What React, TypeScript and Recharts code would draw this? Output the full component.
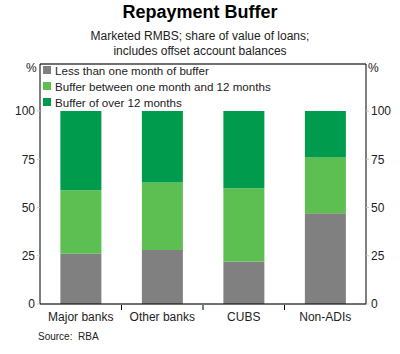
import React from "react"
import { BarChart, Bar, XAxis, YAxis, CartesianGrid, ReferenceLine } from "recharts"

const categories = ["Major banks", "Other banks", "CUBS", "Non-ADIs"]
const lessThanMonth = [26, 28, 22, 47]
const oneTo12Months = [33, 35, 38, 29]
const over12Months = [41, 37, 40, 24]
const yTicks = [0, 25, 50, 75, 100]

const series = [
  { key: "less", name: "Less than one month of buffer", color: "#808080" },
  { key: "mid", name: "Buffer between one month and 12 months", color: "#5dbf51" },
  { key: "over", name: "Buffer of over 12 months", color: "#009b4c" },
]

const data = categories.map((c, i) => ({
  name: c,
  less: lessThanMonth[i],
  mid: oneTo12Months[i],
  over: over12Months[i],
}))

const FONT = "'Liberation Sans', Arial, sans-serif"
const TOP = 124.4

// category label plus a small separator tick on the left edge of each band
const CatTick = (props: any) => {
  const { x, y, payload, index } = props
  const half = payload && payload.offset ? payload.offset : 40.75
  return (
    <g>
      {index > 0 && <line x1={x - half} x2={x - half} y1={y - 4} y2={y - 9} stroke="#000" />}
      <text x={x} y={y} dy={7} textAnchor="middle" fontSize={12} fill="#222" fontFamily={FONT}>
        {payload.value}
      </text>
    </g>
  )
}

export default function App() {
  return (
    <div style={{ position: "absolute", left: 0, top: 0, width: 400, height: 354, background: "#fff", fontFamily: FONT }}>
      <div style={{ position: "absolute", top: 2, width: 400, textAlign: "center", fontSize: 18, fontWeight: "bold", color: "#000" }}>
        Repayment Buffer
      </div>
      <div style={{ position: "absolute", top: 29, width: 400, textAlign: "center", fontSize: 12, lineHeight: "15px", color: "#222" }}>
        Marketed RMBS; share of value of loans;<br />includes offset account balances
      </div>
      <div style={{ position: "absolute", top: 61, left: 26, fontSize: 12, color: "#222" }}>%</div>
      <div style={{ position: "absolute", top: 61, left: 368, fontSize: 12, color: "#222" }}>%</div>
      <div style={{ position: "absolute", top: 331, left: 38, fontSize: 10, color: "#222" }}>Source:&nbsp;&nbsp;RBA</div>
      <BarChart width={400} height={354} data={data} barCategoryGap="25%"
        margin={{ top: 64, right: 0, bottom: 20, left: 0 }}>
        <CartesianGrid vertical={false} stroke="#c8c8c8" />
        <XAxis dataKey="name" height={30} interval={0} tickLine={false} axisLine={{ stroke: "#000" }}
          tick={<CatTick />} tickMargin={4} />
        <YAxis yAxisId="l" width={40} domain={[0, TOP]} ticks={yTicks} allowDataOverflow
          axisLine={{ stroke: "#000" }} tickLine={{ stroke: "#c8c8c8" }} tickSize={3}
          tick={{ fontSize: 12, fill: "#222", fontFamily: FONT }} />
        <YAxis yAxisId="r" orientation="right" width={34} domain={[0, TOP]} ticks={yTicks} allowDataOverflow
          axisLine={{ stroke: "#000" }} tickLine={{ stroke: "#c8c8c8" }} tickSize={3}
          tick={{ fontSize: 12, fill: "#222", fontFamily: FONT, textAnchor: "start" }} />
        <ReferenceLine yAxisId="l" y={TOP} stroke="#000" />
        {series.map(s => (
          <Bar key={s.key} dataKey={s.key} name={s.name} stackId="a" yAxisId="l"
            fill={s.color} isAnimationActive={false} />
        ))}
      </BarChart>
      <div style={{ position: "absolute", top: 62, left: 43, fontSize: 11.6, color: "#222" }}>
        {series.map(s => (
          <div key={s.key} style={{ display: "flex", alignItems: "center", height: 16 }}>
            <span style={{ width: 8, height: 8, background: s.color, marginRight: 4, display: "inline-block" }} />
            {s.name}
          </div>
        ))}
      </div>
    </div>
  )
}
